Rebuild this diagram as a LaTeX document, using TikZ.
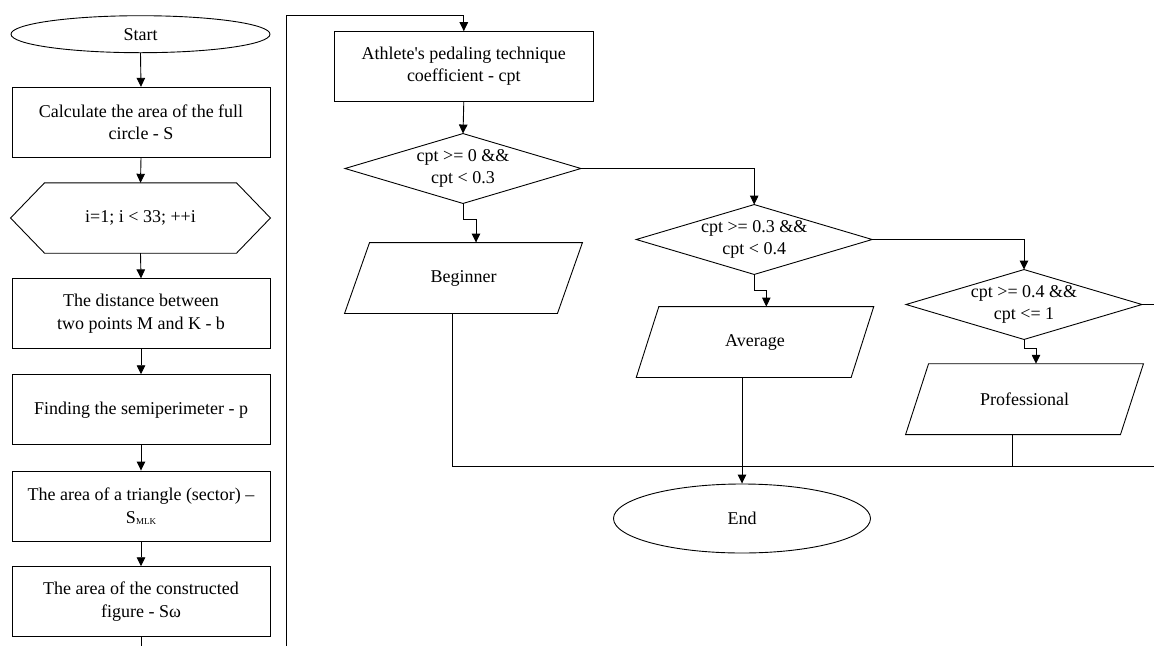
\documentclass[tikz,border=0pt]{standalone}
\usepackage{fontspec}
\setmainfont{Liberation Serif}
\newfontfamily\plainserif{Liberation Serif}[Ligatures=TeXOff]
\usetikzlibrary{shapes.geometric,arrows.meta,calc}
\newcommand{\fs}{\fontsize{18}{22.5}\selectfont}
\newcommand{\paral}[2]{\draw ([xshift=#2]#1.north west) -- ([xshift=#2]#1.north east) -- ([xshift=-#2]#1.south east) -- ([xshift=-#2]#1.south west) -- cycle;}
\newcommand{\diam}[1]{\draw (#1.north) -- (#1.east) -- (#1.south) -- (#1.west) -- cycle;}
\begin{document}
\begin{tikzpicture}[x=1pt,y=-1pt, line width=0.9pt,
  arr/.style={-{Triangle[length=9pt,width=8.5pt]}},
  box/.style={draw, rectangle, minimum width=258, minimum height=70, inner sep=0pt, align=center, font=\fs},
  plain/.style={rectangle, inner sep=0pt, align=center, font=\fs},
  term/.style={draw, ellipse, inner sep=0pt, font=\fs}]
\useasboundingbox[fill=white] (0,0) rectangle (1154,646);
% left column
\node[term, minimum width=259, minimum height=37] (start) at (140.5,34.2) {Start};
\node[box] (c1) at (141,122.3) {Calculate the area of the full\\circle - S};
\node[plain, minimum width=259, minimum height=69.5] (loop) at (140.5,218) {i=1; i < 33; ++i};
\draw (loop.west) -- ([xshift=34]loop.north west) -- ([xshift=-34]loop.north east) -- (loop.east) -- ([xshift=-34]loop.south east) -- ([xshift=34]loop.south west) -- cycle;
\node[box] (c2) at (141,313.8) {The distance between\\two points M and K - b};
\node[box] (c3) at (141,409.7) {Finding the semiperimeter - p};
\node[box] (c4) at (141,506) {The area of a triangle (sector) –\\S\raisebox{-1pt}{\fontsize{9}{9}\selectfont MLK}};
\node[box] (c5) at (141,601.7) {The area of the constructed\\figure - Sω};
\coordinate (c5out) at (141,646);
\draw[arr] (start.south) -- (c1.north);
\draw[arr] (c1.south) -- (loop.north);
\draw[arr] (loop.south) -- (c2.north);
\draw[arr] (c2.south) -- (c3.north);
\draw[arr] (c3.south) -- (c4.north);
\draw[arr] (c4.south) -- (c5.north);
\draw (c5.south) -- (c5out);
% right part
\node[box, minimum width=259, minimum height=69.5] (ath) at (463.8,66.4) {Athlete{\plainserif '}s pedaling technique\\coefficient - cpt};
\node[plain, minimum width=235, minimum height=69] (d1) at (463,168.5) {cpt >= 0 \&\&\\cpt < 0.3};
\diam{d1}
\node[plain, minimum width=212, minimum height=70] (beg) at (463.5,278) {Beginner};
\paral{beg}{12.5}
\node[plain, minimum width=235, minimum height=69] (d2) at (754.2,239.5) {cpt >= 0.3 \&\&\\cpt < 0.4};
\diam{d2}
\node[plain, minimum width=214, minimum height=70] (avg) at (755,342) {Average};
\paral{avg}{11.3}
\node[plain, minimum width=235, minimum height=69] (d3) at (1024,304.5) {cpt >= 0.4 \&\&\\cpt <= 1};
\diam{d3}
\node[plain, minimum width=214, minimum height=70] (pro) at (1024.5,399.2) {Professional};
\paral{pro}{11.5}
\node[term, minimum width=257, minimum height=69] (end) at (742,518.5) {End};
\coordinate (loopbot) at (286,646);
\coordinate (looptop) at (286,15);
\coordinate (d3out) at (1154,304.5);
\coordinate (mergeR) at (1154,466.5);
\draw[arr] (loopbot) -- (looptop) -| (ath.north);
\draw[arr] (ath.south) -- (d1.north);
\draw[arr] (d1.south) -- ++(0,16) -| ([xshift=12.5]beg.north);
\draw[arr] (d1.east) -| (d2.north);
\draw[arr] (d2.south) -- ++(0,16) -| ([xshift=11.3]avg.north);
\draw[arr] (d2.east) -| (d3.north);
\draw (d3.east) -- (d3out);
\draw[arr] (d3.south) -- ++(0,9) -| ([xshift=11.5]pro.north);
\draw ([xshift=-11.5]beg.south) |- (mergeR);
\draw ([xshift=-11.8]pro.south) -- ([xshift=-11.8]pro.south |- mergeR);
\draw[arr] ([xshift=-13]avg.south) -- (end.north);
\end{tikzpicture}
\end{document}
